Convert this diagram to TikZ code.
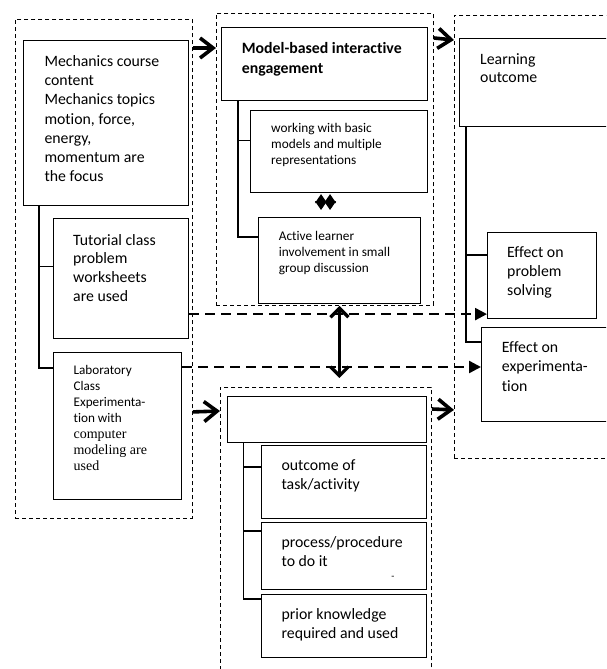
\documentclass[tikz,border=0pt]{standalone}
\usepackage{fontspec}
\setmainfont{Carlito}[Ligatures=NoCommon]
\newfontfamily\serifface{Liberation Serif}[Ligatures=NoCommon]
\usetikzlibrary{arrows.meta}
\tikzset{
  box/.style={draw, line width=1.1pt, anchor=north west, inner sep=0pt},
  grp/.style={draw, line width=0.9pt, dash pattern=on 4pt off 3pt, anchor=north west, inner sep=0pt},
  big/.style={anchor=base west, inner sep=0pt, align=left, font=\fontsize{15.8}{19.2}\selectfont},
  small/.style={anchor=base west, inner sep=0pt, align=left, font=\fontsize{13.3}{16}\selectfont},
  treeline/.style={line width=1.7pt},
  chev/.style={line width=3.6pt, -{Straight Barb[length=13pt,width=20pt]}},
  vdbl/.style={line width=3.3pt, {Straight Barb[length=9pt,width=18pt]}-{Straight Barb[length=9pt,width=18pt]}},
  dasharr/.style={line width=2.4pt, dash pattern=on 10pt off 6pt, -{Triangle[length=12pt,width=12pt]}},
  star/.style={line width=1.2pt, {Triangle[length=9pt,width=12pt]}-{Triangle[length=9pt,width=12pt]}}
}
\begin{document}
\begin{tikzpicture}[x=1pt,y=-1pt]
\useasboundingbox (0,0) rectangle (606,669);
\clip (0,0) rectangle (606,669);
% groups
\node[grp, minimum width=177pt, minimum height=499pt] (gL) at (15,19) {};
\node[grp, minimum width=217pt, minimum height=292pt] (gM) at (216,13) {};
\node[grp, minimum width=175pt, minimum height=443pt] (gR) at (454,15) {};
\node[grp, minimum width=211pt, minimum height=300pt] (gB) at (220,387) {};
% left boxes
\node[box, minimum width=165pt, minimum height=165pt] (mech) at (23,40) {};
\node[box, minimum width=135pt, minimum height=120pt] (tut) at (53,218) {};
\node[box, minimum width=128pt, minimum height=147pt] (lab) at (53,352) {};
% middle boxes
\node[box, minimum width=206pt, minimum height=73pt] (model) at (221,27) {};
\node[box, minimum width=177pt, minimum height=82pt] (work) at (250,110) {};
\node[box, minimum width=162pt, minimum height=86pt] (act) at (258,217) {};
% right boxes
\node[box, minimum width=175pt, minimum height=88pt] (lo) at (459,38) {};
\node[box, minimum width=109pt, minimum height=86pt] (ps) at (487,232) {};
\node[box, minimum width=150pt, minimum height=94pt] (exp) at (481,327) {};
% bottom boxes
\node[box, minimum width=199pt, minimum height=46pt] (empty) at (227,396) {};
\node[box, minimum width=165pt, minimum height=73pt] (outc) at (261,445) {};
\node[box, minimum width=165pt, minimum height=67pt] (proc) at (261,522) {};
\node[box, minimum width=165pt, minimum height=63pt] (prior) at (261,594) {};
% texts (anchored at the baseline of the last line)
\node[big] (tmech) at (44.3,181.7) {Mechanics course\\content\\Mechanics topics\\motion, force,\\energy,\\momentum are\\the focus};
\node[big, font=\fontsize{15.8}{18.9}\selectfont] (ttut) at (73,301.7) {Tutorial class\\problem\\worksheets\\are used};
\node[anchor=base west, inner sep=0pt, align=left, font=\fontsize{13.2}{16.1}\selectfont] (tlab) at (73.4,470.7) {Laboratory\\Class\\Experimenta-\\tion with\\{\serifface\fontsize{14}{16.1}\selectfont computer}\\{\serifface\fontsize{14}{16.1}\selectfont modeling are}\\{\serifface\fontsize{14}{16.1}\selectfont used}};
\node[big, font=\fontsize{15.8}{20}\selectfont\bfseries] (tmodel) at (241.7,73.3) {Model-based interactive\\engagement};
\node[small] (twork) at (271,164.7) {working with basic\\models and multiple\\representations};
\node[small] (tact) at (278.7,272) {Active learner\\involvement in small\\group discussion};
\node[big, font=\fontsize{15.8}{18.4}\selectfont] (tlo) at (480,82.7) {Learning\\outcome};
\node[big] (tps) at (507,295.7) {Effect on\\problem\\solving};
\node[big] (texp) at (501.7,391.1) {Effect on\\experimenta-\\tion};
\node[big, font=\fontsize{15.8}{19.3}\selectfont] (toutc) at (281.4,489.3) {outcome of\\task/activity};
\node[big, font=\fontsize{15.8}{19}\selectfont] (tproc) at (281.4,566.7) {process/procedure\\to do it};
\node[big, font=\fontsize{15.8}{19}\selectfont] (tprior) at (281.4,638.3) {prior knowledge\\required and used};
\node[inner sep=0pt, font=\fontsize{10}{10}\selectfont] (tdash) at (393,578) {-};
% tree lines
\draw[treeline] ([xshift=16pt]mech.south west) |- ([yshift=-16pt]lab.north west);
\draw[treeline] ([xshift=16pt]mech.south west |- tut.west) ++(0,-12) -- ([yshift=12pt]tut.west);
\draw[treeline] ([xshift=17pt]model.south west) |- ([yshift=-20pt]act.north west);
\draw[treeline] ([xshift=17pt]model.south west |- work.west) ++(0,-11) -- ([yshift=11pt]work.west);
\draw[treeline] ([xshift=7pt]lo.south west) |- ([yshift=-15pt]exp.north west);
\draw[treeline] ([xshift=7pt]lo.south west |- ps.north west) ++(0,23) -- ([yshift=-23pt]ps.north west);
\draw[treeline] ([xshift=16.5pt]empty.south west) |- ([yshift=-5pt]prior.north west);
\draw[treeline] ([xshift=16.5pt]empty.south west |- outc.north west) ++(0,22) -- ([yshift=-22pt]outc.north west);
\draw[treeline] ([xshift=16.5pt]empty.south west |- proc.north west) ++(0,9) -- ([yshift=-9pt]proc.north west);
% chevron arrows between groups
\draw[chev] ([yshift=-29pt]gL.north east) -- ([yshift=-35pt]gM.north west);
\draw[chev] ([yshift=-25pt]gM.north east) -- ([yshift=-25pt]gR.north west);
\draw[chev] ([yshift=107pt]gL.south east) -- ([yshift=-24pt]gB.north west);
\draw[chev] ([yshift=-22pt]gB.north east) -- ([yshift=49pt]gR.south west);
% vertical double arrow
\draw[vdbl] ([xshift=14.5pt]gM.south) -- ([xshift=13.5pt,yshift=9pt]gB.north);
% star double arrows
\draw[star] ([xshift=-18pt,yshift=-1pt]work.south) -- ([xshift=-18.5pt,yshift=7pt]act.north);
\draw[star] ([xshift=-9pt,yshift=-1pt]work.south) -- ([xshift=-9.5pt,yshift=7pt]act.north);
% dashed arrows
\draw[dasharr] ([yshift=25pt]tut.south east) -- ([yshift=5pt]ps.south west);
\draw[dasharr] ([yshift=-15pt]lab.north east) -- ([yshift=-40pt]exp.north west);
\end{tikzpicture}
\end{document}
